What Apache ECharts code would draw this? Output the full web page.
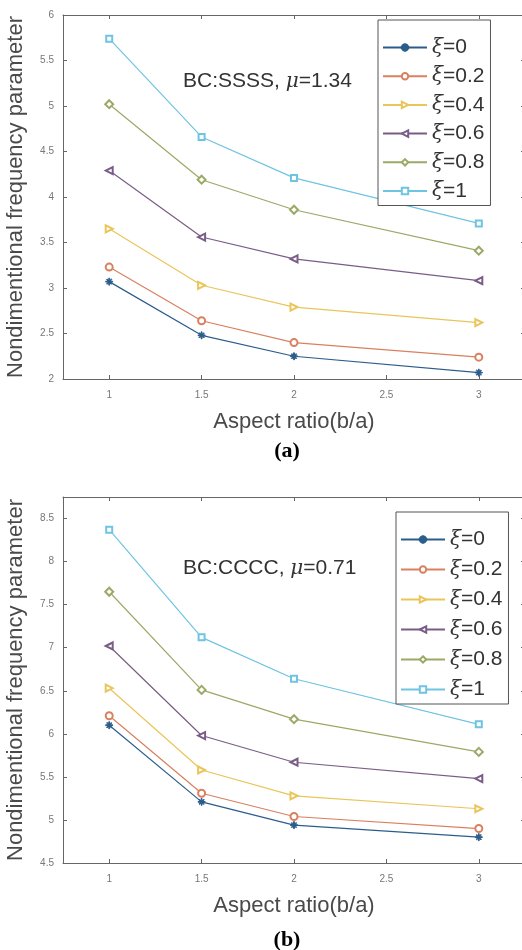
<!DOCTYPE html>
<html>
<head>
<meta charset="utf-8">
<script src="https://cdn.jsdelivr.net/npm/echarts@6/dist/echarts.min.js"></script>
<style>
  html, body { margin: 0; padding: 0; background: #fff; }
  #chart { width: 522px; height: 950px; }
</style>
</head>
<body>
<div id="chart"></div>
<script>
// aspect ratio values (x)
const xValues = [1, 1.5, 2, 3];
const xTicks = [1, 1.5, 2, 2.5, 3];
const yTicksA = [2, 2.5, 3, 3.5, 4, 4.5, 5, 5.5, 6];
const yTicksB = [4.5, 5, 5.5, 6, 6.5, 7, 7.5, 8, 8.5];
const xiNames = ['ξ=0', 'ξ=0.2', 'ξ=0.4', 'ξ=0.6', 'ξ=0.8', 'ξ=1'];

// (a) BC:SSSS, mu=1.34
const ssssXi0 = [3.07, 2.48, 2.25, 2.07];
const ssssXi02 = [3.23, 2.64, 2.40, 2.24];
const ssssXi04 = [3.65, 3.03, 2.79, 2.62];
const ssssXi06 = [4.29, 3.56, 3.32, 3.08];
const ssssXi08 = [5.02, 4.19, 3.86, 3.41];
const ssssXi1 = [5.74, 4.66, 4.21, 3.71];

// (b) BC:CCCC, mu=0.71
const ccccXi0 = [6.10, 5.21, 4.94, 4.80];
const ccccXi02 = [6.21, 5.31, 5.04, 4.90];
const ccccXi04 = [6.53, 5.58, 5.28, 5.13];
const ccccXi06 = [7.02, 5.98, 5.67, 5.48];
const ccccXi08 = [7.65, 6.51, 6.17, 5.79];
const ccccXi1 = [8.37, 7.12, 6.64, 6.11];

const colors = ['#2b5d8c', '#d9805f', '#e9c55a', '#7a5d86', '#9aaa66', '#6fc4e2'];
const asterisk = 'path://M4.4,0h1.2v10h-1.2z M0,4.4h10v1.2h-10z M1.2,2l0.8,-0.8l6.8,6.8l-0.8,0.8z M8,1.2l0.8,0.8l-6.8,6.8l-0.8,-0.8z';
const symbols = [asterisk, 'emptyCircle', 'emptyTriangle', 'emptyTriangle', 'emptyDiamond', 'emptyRect'];
const symbolRot = [0, 0, -90, 90, 0, 0];
const symbolSizes = [7, 7, 7, 7, 8, 6];

const font = 'Liberation Sans, Arial, sans-serif';

function makeSeries(list, idx) {
  return list.map((vals, i) => ({
    name: xiNames[i],
    type: 'line',
    xAxisIndex: idx * 2,
    yAxisIndex: idx * 2,
    data: vals.map((v, k) => [xValues[k], v]),
    symbol: symbols[i],
    symbolRotate: symbolRot[i],
    symbolSize: symbolSizes[i],
    showAllSymbol: true,
    color: colors[i],
    lineStyle: { width: 1.2, color: colors[i] },
    itemStyle: { color: colors[i], borderColor: colors[i], borderWidth: 1 },
    emphasis: { disabled: true },
    animation: false,
    z: 3
  }));
}

function axesFor(gi, yMin, yMax, yTicks) {
  const axisLine = { show: true, lineStyle: { color: '#666', width: 1 } };
  const tick = { show: true, inside: true, length: 4, lineStyle: { color: '#666' } };
  const xs = [
    {
      type: 'value', gridIndex: gi, position: 'bottom', min: 0.75, max: 3.25,
      name: 'Aspect ratio(b/a)', nameLocation: 'middle', nameGap: 32,
      nameTextStyle: { fontFamily: font, fontSize: 22, color: '#4a4a4a' },
      axisLine: axisLine,
      axisTick: Object.assign({ customValues: xTicks }, tick),
      axisLabel: { customValues: xTicks, fontFamily: font, fontSize: 10, color: '#777', margin: 11 },
      splitLine: { show: false }
    },
    {
      type: 'value', gridIndex: gi, position: 'top', min: 0.75, max: 3.25,
      axisLine: axisLine,
      axisTick: Object.assign({ customValues: xTicks }, tick),
      axisLabel: { show: false },
      splitLine: { show: false }
    }
  ];
  const ys = [
    {
      type: 'value', gridIndex: gi, position: 'left', min: yMin, max: yMax,
      name: 'Nondimentional frequency parameter', nameLocation: 'middle', nameGap: 36,
      nameTextStyle: { fontFamily: font, fontSize: 22, color: '#4a4a4a' },
      axisLine: axisLine,
      axisTick: Object.assign({ customValues: yTicks }, tick),
      axisLabel: { customValues: yTicks, fontFamily: font, fontSize: 10, color: '#777', margin: 9 },
      splitLine: { show: false }
    },
    {
      type: 'value', gridIndex: gi, position: 'right', min: yMin, max: yMax,
      axisLine: axisLine,
      axisTick: Object.assign({ customValues: yTicks }, tick),
      axisLabel: { show: false },
      splitLine: { show: false }
    }
  ];
  return { xs, ys };
}

const axA = axesFor(0, 2, 6, yTicksA);
const axB = axesFor(1, 4.5, 8.75, yTicksB);

function legendAt(left, top, gap) {
  return {
    show: true,
    orient: 'vertical',
    left: left,
    top: top,
    data: xiNames,
    backgroundColor: '#fff',
    borderColor: '#555',
    borderWidth: 1,
    padding: [17, 6, 4, 4],
    itemWidth: 44,
    itemHeight: 8,
    itemGap: gap,
    selectedMode: false,
    formatter: name => '{i|ξ}' + name.slice(1),
    textStyle: {
      fontFamily: font, fontSize: 21, color: '#333', lineHeight: 20,
      rich: { i: { fontFamily: 'DejaVu Serif, serif', fontStyle: 'italic', fontSize: 20, color: '#333' } }
    }
  };
}

function annot(left, top, text, mu) {
  return {
    type: 'text', left: left, top: top, z: 10,
    style: {
      text: text + ', {i|μ}=' + mu,
      fontFamily: font, fontSize: 21, fill: '#333',
      rich: { i: { fontFamily: 'DejaVu Serif, serif', fontStyle: 'italic', fontSize: 20, fill: '#333' } }
    }
  };
}

const chart = echarts.init(document.getElementById('chart'), null, { renderer: 'canvas' });
chart.setOption({
  animation: false,
  backgroundColor: '#fff',
  grid: [
    { left: 63, top: 15, width: 462, height: 364, show: false, outerBoundsMode: 'none', containLabel: false },
    { left: 63, top: 497, width: 462, height: 366, show: false, outerBoundsMode: 'none', containLabel: false }
  ],
  xAxis: axA.xs.concat(axB.xs),
  yAxis: axA.ys.concat(axB.ys),
  legend: [legendAt(378, 20, 7.7), legendAt(396, 512, 9)],
  title: [
    { text: '(a)', left: 282, top: 435, textAlign: 'center',
      textStyle: { fontFamily: 'Liberation Serif, Times New Roman, serif', fontWeight: 'bold', fontSize: 22, color: '#000' } },
    { text: '(b)', left: 282, top: 924, textAlign: 'center',
      textStyle: { fontFamily: 'Liberation Serif, Times New Roman, serif', fontWeight: 'bold', fontSize: 22, color: '#000' } }
  ],
  graphic: [
    annot(183, 71, 'BC:SSSS', '1.34'),
    annot(183, 558, 'BC:CCCC', '0.71')
  ],
  series: makeSeries([ssssXi0, ssssXi02, ssssXi04, ssssXi06, ssssXi08, ssssXi1], 0)
    .concat(makeSeries([ccccXi0, ccccXi02, ccccXi04, ccccXi06, ccccXi08, ccccXi1], 1))
});
</script>
</body>
</html>
